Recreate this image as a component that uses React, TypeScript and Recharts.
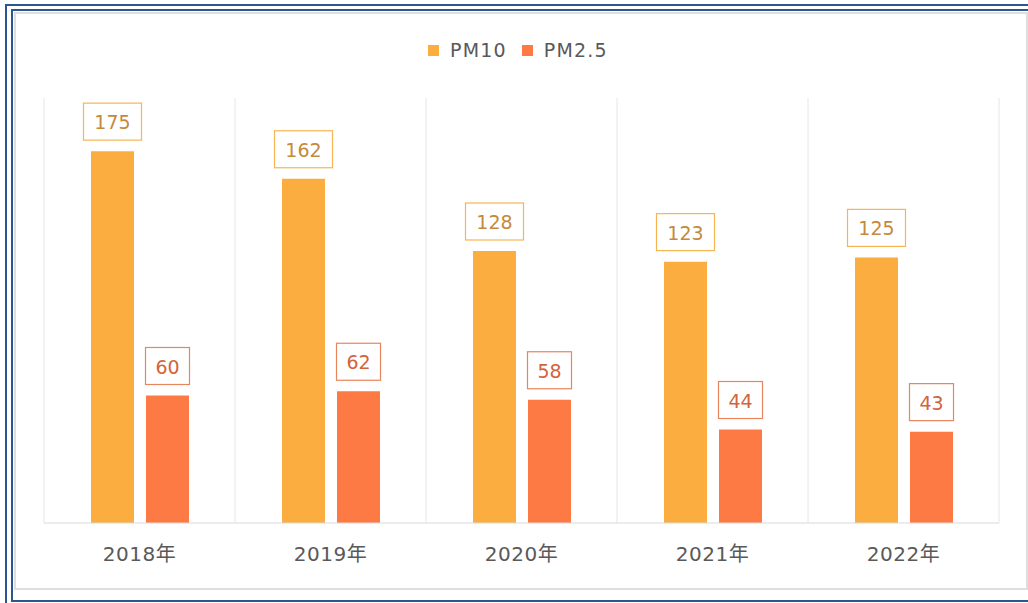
import { BarChart, Bar, XAxis, YAxis, CartesianGrid, LabelList } from "recharts"

const years = ["2018年", "2019年", "2020年", "2021年", "2022年"]
const pm10 = [175, 162, 128, 123, 125]
const pm25 = [60, 62, 58, 44, 43]

const data = years.map((year, i) => ({ year, pm10: pm10[i], pm25: pm25[i] }))

const FONT = "'DejaVu Sans', 'Noto Sans CJK SC', sans-serif"

const series = [
  { key: "pm10", name: "PM10", fill: "#FBAE3F", text: "#C48A3C", border: "#F6B552" },
  { key: "pm25", name: "PM2.5", fill: "#FD7A45", text: "#D2643C", border: "#E8855C" },
]

function makeLabel(text: string, border: string) {
  return function BoxLabel(props: any) {
    const { x, y, width, value } = props
    const s = String(value)
    const boxW = 14 * s.length + 16
    const boxH = 37
    const cx = x + width / 2
    const top = y - 11 - boxH
    return (
      <g>
        <rect x={cx - boxW / 2} y={top} width={boxW} height={boxH} fill="#fff" stroke={border} strokeWidth={1.2} />
        <text x={cx} y={top + 26} textAnchor="middle" fill={text} fontSize={19} fontFamily={FONT}>
          {s}
        </text>
      </g>
    )
  }
}

function YearTick(props: any) {
  const { x, y, payload } = props
  return (
    <text x={x} y={y} dy={30} textAnchor="middle" fill="#595959" fontSize={20} fontFamily={FONT} letterSpacing={0.5}>
      {payload.value}
    </text>
  )
}

export default function App() {
  return (
    <div style={{ position: "absolute", left: 0, top: 0, width: 1028, height: 603, overflow: "hidden", background: "#fff" }}>
      <div style={{ position: "absolute", left: 5, top: 4, width: 1100, height: 640, border: "2px solid #2B5691" }} />
      <div style={{ position: "absolute", left: 11, top: 9, width: 1100, height: 593, boxSizing: "border-box", border: "2px solid #2B5691" }} />
      <div style={{ position: "absolute", left: 14, top: 12, width: 1014, height: 578, boxSizing: "border-box", border: "2px solid #DEDEDE" }} />

      <div style={{ position: "absolute", left: 428, top: 39, display: "flex", alignItems: "center", fontFamily: FONT, fontSize: 19, color: "#595959", letterSpacing: 1.2 }}>
        {series.map((s, i) => (
          <div key={s.key} style={{ display: "flex", alignItems: "center", marginLeft: i === 0 ? 0 : 15 }}>
            <span style={{ display: "inline-block", width: 11, height: 11, background: s.fill, marginRight: 11 }} />
            <span>{s.name}</span>
          </div>
        ))}
      </div>

      <div style={{ position: "absolute", left: 0, top: 0 }}>
        <BarChart
          width={1028}
          height={603}
          data={data}
          margin={{ top: 98, right: 29, left: 44, bottom: 30 }}
          barSize={43}
          barGap={12}
        >
          <CartesianGrid
            horizontal={false}
            stroke="#E6E6E6"
            verticalCoordinatesGenerator={({ offset }: any) =>
              [...years, ""].map((_, i) => offset.left + (i * offset.width) / years.length)
            }
          />
          <XAxis dataKey="year" height={50} axisLine={{ stroke: "#D9D9D9" }} tickLine={false} tick={<YearTick />} interval={0} />
          <YAxis hide domain={[0, 200]} />
          {series.map((s) => (
            <Bar key={s.key} dataKey={s.key} name={s.name} fill={s.fill} isAnimationActive={false}>
              <LabelList dataKey={s.key} content={makeLabel(s.text, s.border)} />
            </Bar>
          ))}
        </BarChart>
      </div>
    </div>
  )
}
